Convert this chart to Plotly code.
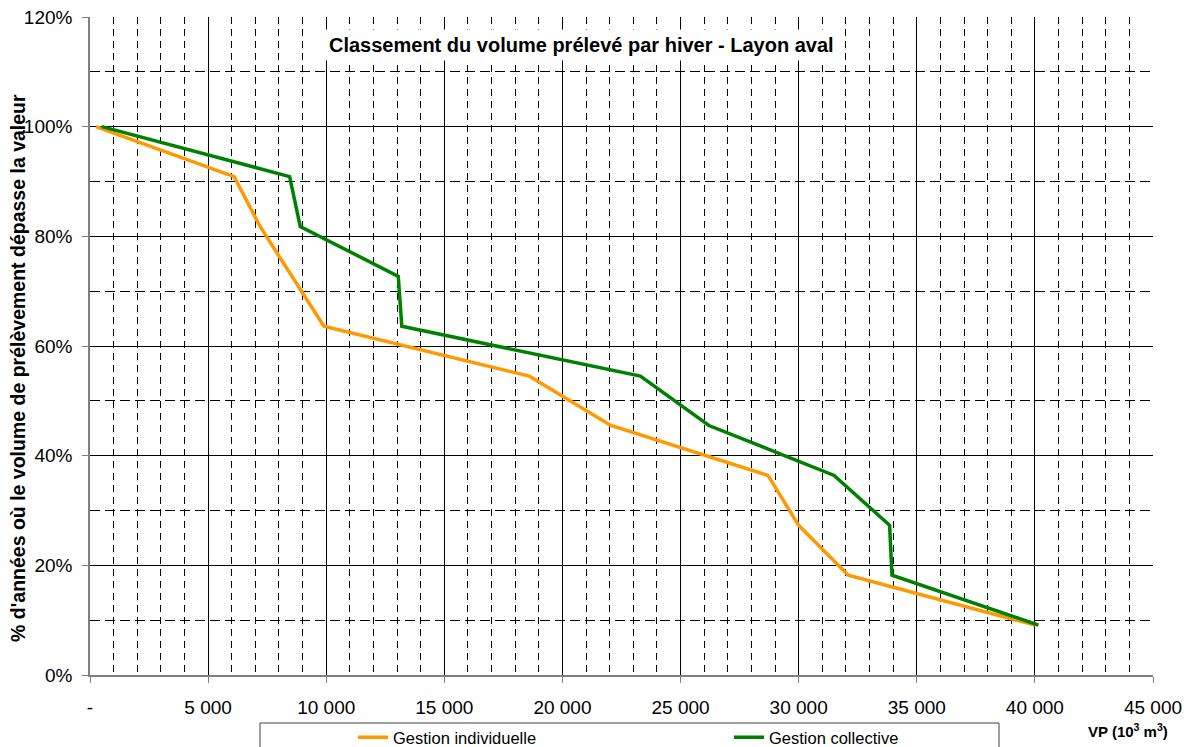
import plotly.graph_objects as go

# Données
pct = [1.0, 0.909, 0.818, 0.727, 0.636, 0.545, 0.455, 0.364, 0.273, 0.182, 0.091]
vp_individuelle = [250, 6100, 7200, 8550, 9900, 18600, 22050, 28700, 30000, 32100, 40000]
vp_collective = [500, 8450, 8900, 13050, 13200, 23300, 26200, 31500, 33850, 33950, 40150]

x_ticks = [0, 5000, 10000, 15000, 20000, 25000, 30000, 35000, 40000, 45000]
x_labels = ["-", "5 000", "10 000", "15 000", "20 000", "25 000", "30 000", "35 000", "40 000", "45 000"]

FONT = "Liberation Sans, Arial, sans-serif"

# la page a une marge de 8 px autour de la figure
W, H = 1186, 739
PL, PT, PR, PB = 90, 17, 1153, 675  # zone de tracé dans la page


def px(x):
    return (x - PL) / (PR - PL)


def py(y):
    return (PB - y) / (PB - PT)


fig = go.Figure()

fig.add_trace(go.Scatter(x=vp_individuelle, y=pct, mode="lines", name="Gestion individuelle",
                         line=dict(color="#FF9900", width=3.5)))
fig.add_trace(go.Scatter(x=vp_collective, y=pct, mode="lines", name="Gestion collective",
                         line=dict(color="#008000", width=3.5)))

fig.update_xaxes(
    range=[0, 45000], tickvals=x_ticks, ticktext=x_labels,
    showgrid=True, gridcolor="black", gridwidth=1,
    showline=True, linecolor="#808080", linewidth=1.5,
    ticks="outside", ticklen=6, tickcolor="#808080",
    tickfont=dict(family=FONT, size=19, color="black"),
    ticklabelstandoff=8, automargin=False, ticklabeloverflow="allow",
    minor=dict(dtick=1000, showgrid=True, gridcolor="black", gridwidth=1, griddash="7px,5px"),
    zeroline=False,
)
fig.update_yaxes(
    range=[0, 1.2], dtick=0.2, tickformat=".0%",
    showgrid=True, gridcolor="black", gridwidth=1,
    showline=True, linecolor="#808080", linewidth=1.5,
    ticks="outside", ticklen=6, tickcolor="#808080",
    tickfont=dict(family=FONT, size=19, color="black"),
    ticklabelstandoff=6, automargin=False, ticklabeloverflow="allow",
    minor=dict(dtick=0.1, showgrid=True, gridcolor="black", gridwidth=1, griddash="10px,5px"),
    zeroline=False,
)

# Titre de l'axe des y
fig.add_annotation(
    text="<b>% d'années où le volume de prélèvement dépasse la valeur</b>",
    xref="paper", yref="paper", x=px(18), y=py(368), textangle=-90,
    xanchor="center", yanchor="middle", showarrow=False,
    font=dict(family=FONT, size=19.5, color="black"),
)

# Titre dans la zone de tracé, sur fond blanc
fig.add_annotation(
    text="<b>Classement du volume prélevé par hiver - Layon aval</b>",
    xref="paper", yref="paper", x=px(581), y=py(45), xanchor="center", yanchor="middle",
    showarrow=False, bgcolor="white", borderpad=4,
    font=dict(family=FONT, size=20, color="black"),
)

# Titre de l'axe des x
fig.add_annotation(
    text="<b>VP (10<sup>3</sup> m<sup>3</sup>)</b>",
    xref="paper", yref="paper", x=px(1128), y=py(730),
    xanchor="center", yanchor="middle", showarrow=False,
    font=dict(family=FONT, size=15, color="black"),
)

# Cadre de la légende
fig.add_shape(type="rect", xref="paper", yref="paper",
              x0=px(260), x1=px(999), y0=py(723), y1=py(760),
              line=dict(color="#404040", width=1), fillcolor="white", layer="above")

fig.update_layout(
    width=W, height=H,
    margin=dict(l=PL - 8, r=W + 8 - PR, t=PT - 8, b=H + 8 - PB, autoexpand=False),
    plot_bgcolor="white", paper_bgcolor="white",
    showlegend=True,
    legend=dict(
        orientation="h", xref="container", yref="container",
        x=(260 - 8) / W, y=1 - (720 - 8) / H, xanchor="left", yanchor="top",
        borderwidth=0, bgcolor="rgba(0,0,0,0)",
        font=dict(family=FONT, size=16.5, color="black"),
        entrywidth=238, indentation=93, itemwidth=30,
    ),
)

fig.write_html("out.html")
